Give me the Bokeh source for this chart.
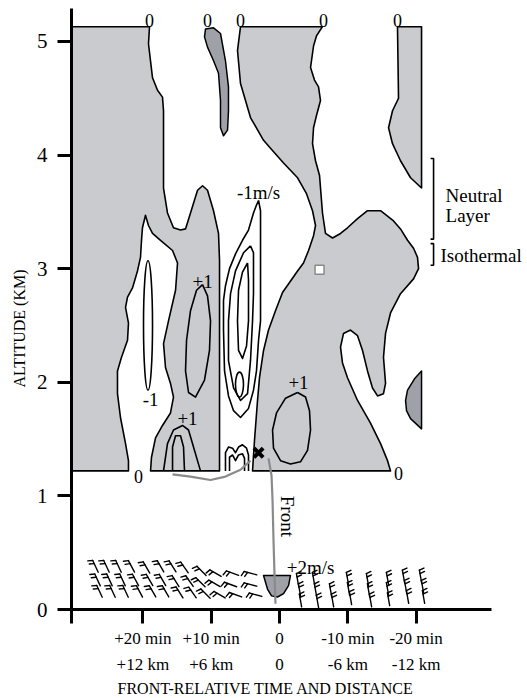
import numpy as np
from bokeh.plotting import figure
from bokeh.models import Range1d, FixedTicker, LinearAxis, Title
from bokeh.core.properties import value
from bokeh.embed import file_html
from bokeh.resources import INLINE

FONT = "Liberation Serif"
LIGHT = "#c9cbce"
DARK = "#9ea2a8"

# ---------------- axis data ----------------
alt_ticks = [0, 1, 2, 3, 4, 5]
time_ticks = [20, 10, 0, -10, -20]
time_labels = ["+20 min", "+10 min", "0", "-10 min", "-20 min"]
dist_labels = ["+12 km", "+6 km", "0", "-6 km", "-12 km"]

# ---------------- shaded regions (x: min, y: km) ----------------
region_a_x = [30.45, 19.03, 19.18, 18.59, 17.86, 17.13, 16.98, 16.98, 16.40, 15.52, 14.49, 13.76, 13.03, 12.00,
              11.27, 10.54, 9.66, 8.93, 8.78, 8.78, 18.88, 18.74, 18.15, 17.13, 15.96, 15.52, 15.96, 16.69, 16.98,
              16.25, 15.22, 14.93, 15.66, 17.42, 18.59, 19.18, 19.62, 20.06, 20.20, 20.35, 20.79, 21.52, 22.25,
              22.54, 22.11, 22.25, 23.13, 23.72, 23.72, 23.28, 22.54, 22.11, 22.11, 30.45]
region_a_y = [5.13, 5.13, 4.98, 4.68, 4.57, 4.51, 4.39, 3.71, 3.49, 3.36, 3.34, 3.35, 3.49, 3.69, 3.73, 3.69,
              3.51, 3.31, 3.07, 1.22, 1.22, 1.34, 1.51, 1.62, 1.73, 1.87, 1.99, 2.13, 2.34, 2.54, 2.81, 3.05,
              3.16, 3.25, 3.31, 3.38, 3.47, 3.36, 3.25, 3.10, 2.98, 2.83, 2.75, 2.66, 2.52, 2.37, 2.22, 2.10,
              1.90, 1.69, 1.46, 1.31, 1.22, 1.22]

region_b_x = [5.71, -6.29, -5.42, -4.98, -4.54, -5.12, -5.71, -6.00, -5.42, -4.98, -4.83, -5.27, -5.86, -6.00,
              -6.29, -6.73, -7.76, -8.93, -9.95, -11.42, -12.88, -14.79, -16.69, -17.71, -18.74, -19.62, -20.20,
              -20.35, -19.62, -17.71, -16.25, -15.52, -15.22, -15.52, -15.22, -14.35, -13.61, -12.88, -12.15,
              -11.42, -10.39, -9.37, -8.93, -9.22, -9.95, -11.42, -13.32, -14.79, -15.81, -16.25, 3.95, 3.66,
              3.22, 2.93, 2.34, 1.61, 0.59, -0.44, -2.64, -3.51, -4.25, -4.98, -5.27, -4.83, -3.95, -2.64,
              -0.59, 1.32, 2.34, 4.25, 5.71, 6.15]
region_b_y = [5.13, 5.13, 5.05, 4.96, 4.77, 4.66, 4.60, 4.48, 4.35, 4.24, 4.10, 3.95, 3.82, 3.71, 3.49, 3.31,
              3.27, 3.31, 3.36, 3.44, 3.51, 3.51, 3.42, 3.35, 3.25, 3.18, 3.10, 3.00, 2.91, 2.78, 2.61, 2.43,
              2.22, 1.99, 1.90, 1.88, 1.95, 2.10, 2.28, 2.41, 2.46, 2.43, 2.31, 2.17, 2.04, 1.84, 1.64, 1.46,
              1.31, 1.22, 1.22, 1.49, 1.84, 2.04, 2.28, 2.46, 2.63, 2.79, 2.98, 3.05, 3.16, 3.29, 3.38, 3.51,
              3.66, 3.80, 3.93, 4.06, 4.13, 4.33, 4.63, 4.92]

region_c_x = [-17.27, -20.79, -20.79, -19.18, -17.71, -16.54, -15.96, -16.54, -17.42]
region_c_y = [5.13, 5.13, 3.71, 3.80, 3.95, 4.10, 4.24, 4.39, 4.50]

dark_top_x = [10.83, 9.66, 8.64, 7.91, 7.47, 7.47, 7.61, 8.20, 8.64, 8.64, 8.93, 9.66, 10.54, 10.98]
dark_top_y = [5.11, 5.12, 5.07, 4.83, 4.60, 4.39, 4.22, 4.17, 4.24, 4.48, 4.72, 4.83, 4.95, 5.04]
dark_right_x = [-20.79, -19.76, -18.74, -18.45, -18.59, -19.18, -20.79]
dark_right_y = [2.10, 2.03, 1.93, 1.84, 1.75, 1.68, 1.59]
dark_sfc_x = [2.34, -1.61, -1.32, -0.59, 0.29, 1.17, 1.76]
dark_sfc_y = [0.30, 0.30, 0.21, 0.14, 0.11, 0.12, 0.18]

# ---------------- contour lines ----------------
plus_mid_x = [11.27, 10.54, 10.10, 10.25, 10.98, 12.30, 13.32, 13.76, 13.61, 13.03, 12.15, 11.27]
plus_mid_y = [2.86, 2.76, 2.54, 2.28, 2.02, 1.87, 1.91, 2.10, 2.37, 2.63, 2.81, 2.86]
plus_b_x = [-2.64, -3.81, -4.39, -4.54, -4.10, -3.07, -1.61, -0.15, 0.88, 1.02, 0.44, -0.88, -2.64]
plus_b_y = [1.91, 1.87, 1.75, 1.58, 1.40, 1.30, 1.28, 1.31, 1.42, 1.58, 1.73, 1.86, 1.91]
arch_out_x = [16.98, 16.40, 15.52, 14.20, 13.32, 12.59, 11.57]
arch_out_y = [1.22, 1.46, 1.58, 1.62, 1.58, 1.43, 1.22]
arch_in_x = [15.66, 15.66, 15.22, 14.49, 14.05, 13.91]
arch_in_y = [1.22, 1.43, 1.53, 1.53, 1.43, 1.22]
neg1_x = [3.07, 2.78, 2.78, 2.78, 3.07, 3.37, 3.81, 4.54, 5.71, 6.73, 7.47, 8.05, 8.20, 8.20, 7.91, 7.32,
          6.44, 5.42, 4.54, 3.81, 3.37, 3.07]
neg1_y = [3.60, 3.51, 3.07, 2.54, 2.37, 2.10, 1.93, 1.77, 1.69, 1.75, 1.88, 2.10, 2.46, 2.72, 2.85, 3.00,
          3.13, 3.25, 3.34, 3.49, 3.56, 3.60]
neg2_x = [4.25, 3.81, 3.81, 3.95, 4.25, 4.68, 5.71, 6.73, 7.47, 7.47, 7.17, 6.44, 5.27, 4.25]
neg2_y = [3.20, 3.14, 2.78, 2.54, 2.19, 1.90, 1.84, 1.95, 2.19, 2.54, 2.78, 2.98, 3.14, 3.20]
neg3_x = [4.68, 4.54, 4.54, 4.83, 5.42, 6.00, 6.15, 6.00, 5.42, 4.68]
neg3_y = [3.05, 2.90, 2.54, 2.32, 2.21, 2.28, 2.54, 2.81, 2.97, 3.05]
squig_out_x = [7.91, 7.91, 7.47, 6.88, 6.44, 6.00, 5.42, 4.83, 4.54, 4.54]
squig_out_y = [1.22, 1.38, 1.43, 1.42, 1.38, 1.43, 1.45, 1.42, 1.36, 1.22]
squig_in_x = [7.32, 7.32, 6.88, 6.44, 6.00, 5.42, 5.12, 5.12]
squig_in_y = [1.22, 1.34, 1.36, 1.31, 1.36, 1.37, 1.33, 1.22]
# small closed contours (centre x, centre y, width min, height km)
ell_x = [19.25, 5.86]
ell_y = [2.50, 1.98]
ell_w = [1.32, 1.17]
ell_h = [1.14, 0.22]

# ---------------- front ----------------
front_w_x = [15.66, 13.03, 10.10, 7.91, 5.71, 4.25]
front_w_y = [1.19, 1.17, 1.14, 1.17, 1.23, 1.31]
front_e_x = [1.61, 1.17, 1.02, 0.88, 0.73, 0.59]
front_e_y = [1.33, 1.18, 0.96, 0.61, 0.30, 0.05]
cross_x, cross_y = [3.07], [1.38]
square_x, square_y = [-5.86], [2.99]

# ---------------- labels ----------------
zero_x = [19.03, 10.54, 5.71, -6.44, -17.27, 20.64, -17.42]
zero_y = [5.18, 5.18, 5.18, 5.18, 5.18, 1.17, 1.20]
val_x = [11.27, 13.47, 18.88, -2.78, 3.07, -4.54]
val_y = [2.89, 1.68, 1.85, 2.00, 3.67, 0.37]
val_t = ["+1", "+1", "-1", "+1", "-1m/s", "+2m/s"]
layer_x = [-24.30, -24.30, -23.57]
layer_y = [3.64, 3.47, 3.12]
layer_t = ["Neutral", "Layer", "Isothermal"]
bracket_xs = [[-22.11, -22.55, -22.55, -22.11], [-22.11, -22.55, -22.55, -22.11]]
bracket_ys = [[3.97, 3.97, 3.26, 3.26], [3.22, 3.22, 3.03, 3.03]]

# ---------------- surface wind barbs ----------------
bw_top_x = [26.94, 25.33, 23.57, 21.67, 19.47, 17.42, 15.66, 13.91, 11.42, 9.37, 6.88, 4.25]
bw_top_y = [0.38, 0.38, 0.38, 0.38, 0.37, 0.38, 0.38, 0.37, 0.34, 0.32, 0.32, 0.32]
bw_mid_x = [26.64, 24.89, 22.98, 21.08, 19.03, 17.13, 15.22, 13.18, 11.57, 9.52, 7.17, 4.25]
bw_mid_y = [0.26, 0.26, 0.26, 0.26, 0.26, 0.26, 0.25, 0.25, 0.24, 0.23, 0.22, 0.22]
bw_bot_x = [26.35, 24.45, 22.54, 20.50, 18.59, 16.69, 14.64, 12.74, 10.83, 8.78, 6.44, 3.51]
bw_bot_y = [0.16, 0.16, 0.16, 0.16, 0.16, 0.16, 0.15, 0.15, 0.14, 0.13, 0.13, 0.13]
bw_dir = [115, 115, 115, 118, 120, 120, 122, 125, 135, 150, 160, 165]
be_top_x = [-2.64, -4.98, -9.95, -12.88, -15.81, -18.15, -20.64]
be_top_y = [0.26, 0.27, 0.27, 0.26, 0.27, 0.29, 0.29]
be_mid_x = [-2.93, -5.27, -7.47, -10.10, -13.03, -15.81, -18.45, -20.93]
be_mid_y = [0.17, 0.17, 0.17, 0.18, 0.17, 0.18, 0.20, 0.20]
be_bot_x = [-3.07, -5.56, -7.76, -10.39, -13.32, -15.96, -18.74, -21.08]
be_bot_y = [0.08, 0.07, 0.08, 0.10, 0.08, 0.09, 0.11, 0.11]
be_dir = 100

# ---------------- figure ----------------
X0, X1 = 30.45, -36.3
Y0, Y1 = 0.0, 5.29
W, H = 527, 698
BL, BR, BT, BB = 71, 0, 8, 89
PX_MIN = (W - BL - BR) / (X0 - X1)
PX_KM = (H - BT - BB) / (Y1 - Y0)

p = figure(width=W, height=H, output_backend="svg", toolbar_location=None,
           x_range=Range1d(X0, X1), y_range=Range1d(Y0, Y1),
           x_axis_type=None, y_axis_type=None,
           min_border_left=BL, min_border_right=BR, min_border_top=BT, min_border_bottom=BB)
p.outline_line_color = None
p.background_fill_color = "white"
p.border_fill_color = "white"

# y axis
yax = LinearAxis(ticker=FixedTicker(ticks=alt_ticks))
yax.axis_line_width = 3
yax.major_tick_line_width = 3
yax.major_tick_out = 14
yax.major_tick_in = 0
yax.minor_tick_line_color = None
yax.major_label_text_font = FONT
yax.major_label_text_font_size = "21px"
yax.major_label_text_color = "black"
yax.major_label_standoff = 10
p.add_layout(yax, "left")

# x axis (time)
xax1 = LinearAxis(ticker=FixedTicker(ticks=[X0] + time_ticks), bounds=(-31.03, X0))
xax1.major_label_overrides = {**{X0: ""}, **dict(zip(time_ticks, time_labels))}
xax1.axis_line_width = 3
xax1.major_tick_line_width = 3
xax1.major_tick_out = 14
xax1.major_tick_in = 0
xax1.minor_tick_line_color = None
xax1.major_label_text_font = FONT
xax1.major_label_text_font_size = "17px"
xax1.major_label_text_color = "black"
xax1.major_label_standoff = 5
p.add_layout(xax1, "below")

# x axis (distance)
xax2 = LinearAxis(ticker=FixedTicker(ticks=time_ticks), bounds=(-31.03, X0))
xax2.major_label_overrides = dict(zip(time_ticks, dist_labels))
xax2.axis_line_color = None
xax2.major_tick_line_color = None
xax2.minor_tick_line_color = None
xax2.major_tick_out = 0
xax2.major_tick_in = 0
xax2.major_label_text_font = FONT
xax2.major_label_text_font_size = "17px"
xax2.major_label_text_color = "black"
xax2.major_label_standoff = 4
p.add_layout(xax2, "below")

# axis titles
p.add_layout(Title(text="FRONT-RELATIVE TIME AND DISTANCE", align="left", offset=46, standoff=3,
                   text_font=FONT, text_font_size="16px", text_font_style="normal", text_color="black"),
             "below")
p.add_layout(Title(text="ALTITUDE (KM)", align="left", offset=222, standoff=12,
                   text_font=FONT, text_font_size="16px", text_font_style="normal", text_color="black"),
             "left")

# shaded regions
p.patches(xs=[region_a_x, region_b_x, region_c_x], ys=[region_a_y, region_b_y, region_c_y],
          fill_color=LIGHT, line_color="black", line_width=1.6, line_join="round")
p.patches(xs=[dark_top_x, dark_right_x, dark_sfc_x], ys=[dark_top_y, dark_right_y, dark_sfc_y],
          fill_color=DARK, line_color="black", line_width=1.5, line_join="round")

# contours
p.multi_line(xs=[plus_mid_x, plus_b_x, arch_out_x, arch_in_x, neg1_x, neg2_x, neg3_x, squig_out_x, squig_in_x],
             ys=[plus_mid_y, plus_b_y, arch_out_y, arch_in_y, neg1_y, neg2_y, neg3_y, squig_out_y, squig_in_y],
             line_color="black", line_width=1.6, line_join="round")
p.ellipse(x=ell_x, y=ell_y, width=ell_w, height=ell_h, fill_color=None, line_color="black", line_width=1.6)

# front
p.line(front_w_x, front_w_y, line_color="#8a8a8a", line_width=2.2)
p.line(front_e_x, front_e_y, line_color="#8a8a8a", line_width=2.2)
p.scatter(cross_x, cross_y, marker="x", size=13, line_color="black", line_width=4)
p.scatter(square_x, square_y, marker="square", size=9, fill_color="white", line_color="#8a8a8a", line_width=1.5)

# brackets
p.multi_line(xs=bracket_xs, ys=bracket_ys, line_color="black", line_width=1.6)


def barb_segments(xs, ys, dirs, turn):
    x0, y0, x1, y1 = [], [], [], []
    if np.isscalar(dirs):
        dirs = [dirs] * len(xs)
    for x, y, a in zip(xs, ys, dirs):
        t = np.radians(a)
        ux, uy = np.cos(t), np.sin(t)
        f = np.radians(a + turn)
        vx, vy = np.cos(f), np.sin(f)

        def d(px, py):
            return x - px / PX_MIN, y + py / PX_KM

        half = 6.5
        segs = [(d(-half * ux, -half * uy), d(half * ux, half * uy))]
        for back in (0.0, 3.5):
            sx, sy = (half - back) * ux, (half - back) * uy
            segs.append((d(sx, sy), d(sx + 5 * vx, sy + 5 * vy)))
        for (a0, b0), (a1, b1) in segs:
            x0.append(a0); y0.append(b0); x1.append(a1); y1.append(b1)
    return x0, y0, x1, y1


for bx, by, bd, turn in [(bw_top_x, bw_top_y, bw_dir, 70), (bw_mid_x, bw_mid_y, bw_dir, 70),
                         (bw_bot_x, bw_bot_y, bw_dir, 70), (be_top_x, be_top_y, be_dir, -75),
                         (be_mid_x, be_mid_y, be_dir, -75), (be_bot_x, be_bot_y, be_dir, -75)]:
    sx0, sy0, sx1, sy1 = barb_segments(bx, by, bd, turn)
    p.segment(sx0, sy0, sx1, sy1, line_color="black", line_width=1.4, line_cap="round")

# labels
p.text(zero_x, zero_y, text=["0"] * len(zero_x), text_font=value(FONT), text_font_size="18px",
       text_align="center", text_baseline="middle", text_color="black")
p.text(val_x, val_y, text=val_t, text_font=value(FONT), text_font_size="19px",
       text_align="center", text_baseline="middle", text_color="black")
p.text(layer_x, layer_y, text=layer_t, text_font=value(FONT), text_font_size="19px",
       text_align="left", text_baseline="middle", text_color="black")
p.text([-1.17], [0.82], text=["Front"], angle=-np.pi / 2, text_font=value(FONT), text_font_size="19px",
       text_align="center", text_baseline="middle", text_color="black")

open("out.html", "w").write(file_html(p, INLINE))
